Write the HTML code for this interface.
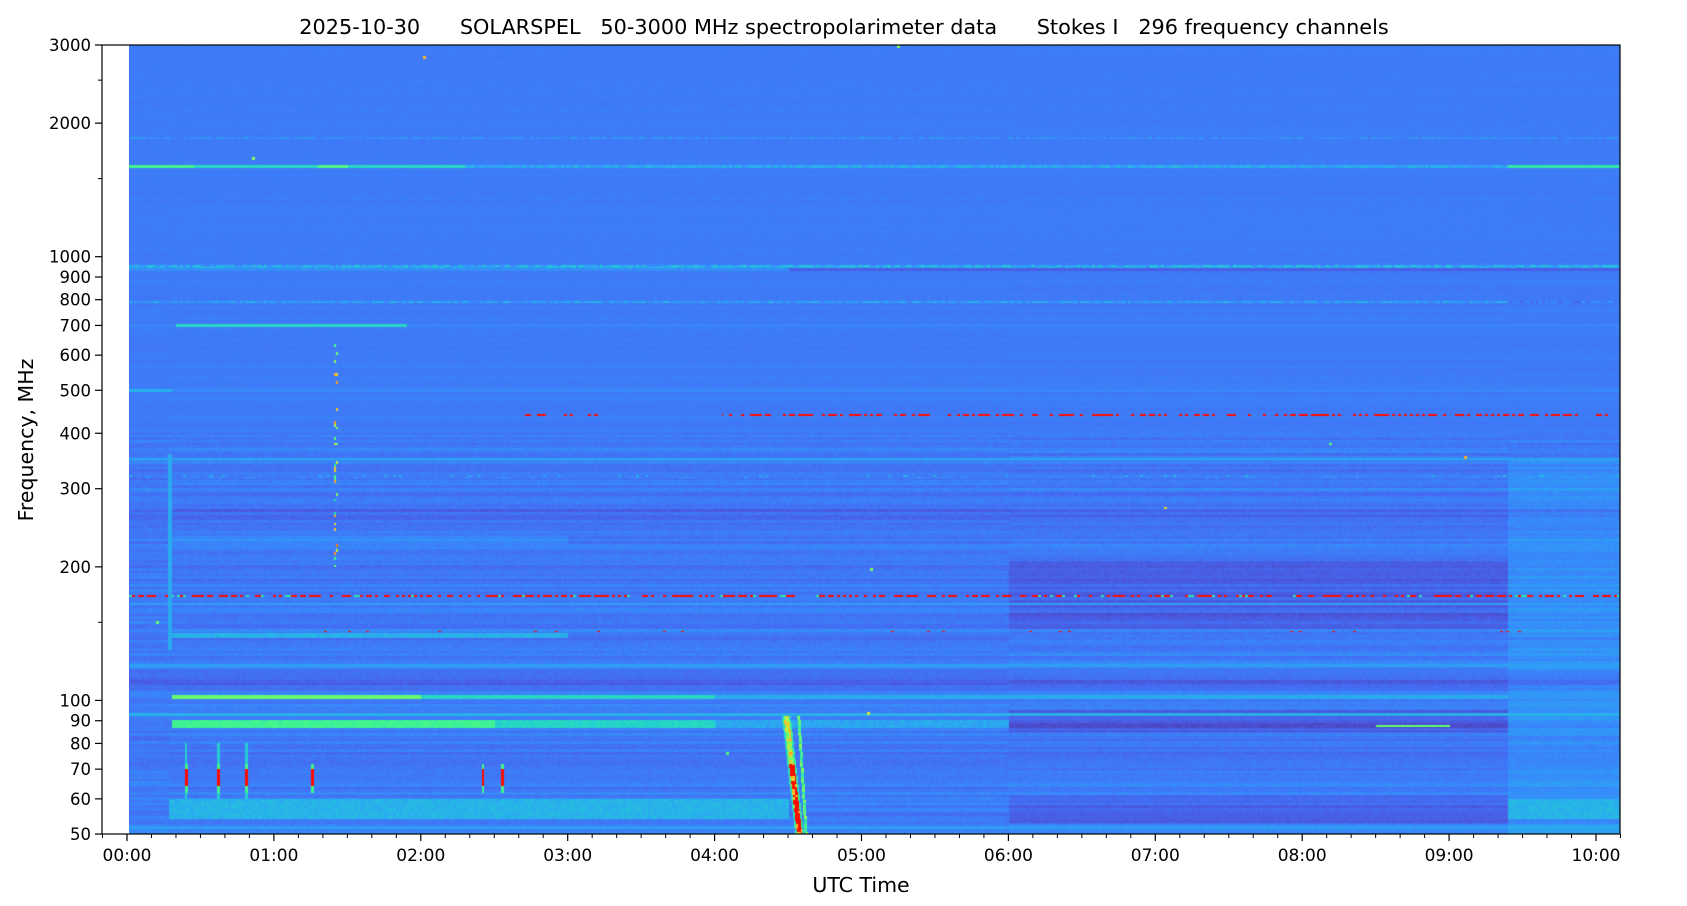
<!DOCTYPE html>
<html><head><meta charset="utf-8">
<style>
html,body{margin:0;padding:0;background:#fff;}
#wrap{position:relative;width:1687px;height:906px;overflow:hidden;font-family:"Liberation Sans","DejaVu Sans",sans-serif;}
canvas{position:absolute;left:129px;top:45px;}
svg{position:absolute;left:0;top:0;}
</style></head><body>
<div id="wrap">
<canvas id="c" width="1491" height="789"></canvas>
<svg id="s" width="1687" height="906" xmlns="http://www.w3.org/2000/svg" font-family="DejaVu Sans, Liberation Sans, sans-serif">
<text x="844" y="34" font-size="20.8" text-anchor="middle" style="white-space:pre" xml:space="preserve">2025-10-30      SOLARSPEL   50-3000 MHz spectropolarimeter data      Stokes I   296 frequency channels</text>
<text x="861" y="892" font-size="20.5" text-anchor="middle">UTC Time</text>
<text transform="translate(33,440) rotate(-90)" font-size="20.5" text-anchor="middle">Frequency, MHz</text>
<rect x="102" y="45" width="1518" height="789" fill="none" stroke="#000" stroke-width="1.2"/>
<g id="ticks"></g>
</svg>
</div>
<script>
const L60=Math.log(60);
function Y(f){return 834-Math.log(f/50)/L60*789;}
function X(t){return 127+146.9*t;}
const g=document.getElementById('ticks');let h='';
[50,60,70,80,90,100,200,300,400,500,600,700,800,900,1000,2000,3000].forEach(f=>{const y=Y(f);
h+=`<line x1="95" x2="102" y1="${y}" y2="${y}" stroke="#000" stroke-width="1.2"/><text x="91" y="${y+6}" font-size="16.5" text-anchor="end">${f}</text>`;});
[150,1500,2500].forEach(f=>{const y=Y(f);h+=`<line x1="98" x2="102" y1="${y}" y2="${y}" stroke="#000"/>`;});
for(let m=-10;m<=610;m+=10){const x=X(m/60);if(x<101||x>1621)continue;
 if(m%60==0){h+=`<line x1="${x}" x2="${x}" y1="834" y2="841" stroke="#000" stroke-width="1.2"/><text x="${x}" y="861" font-size="17" text-anchor="middle">${String(m/60).padStart(2,'0')}:00</text>`;}
 else h+=`<line x1="${x}" x2="${x}" y1="834" y2="838" stroke="#000"/>`;}
g.innerHTML=h;

function turbo(x){
if(x>=0.85)return [255,20*(1-x)*6,0];
x=Math.max(0,Math.min(1,x));
const r=0.13572138+x*(4.61539260+x*(-42.66032258+x*(132.13108234+x*(-152.94239396+x*59.28637943))));
const gg=0.09140261+x*(2.19418839+x*(4.84296658+x*(-14.18503333+x*(4.27729857+x*2.82956604))));
const b=0.10667330+x*(12.64194608+x*(-60.58204836+x*(110.36276771+x*(-89.90310912+x*27.34824973))));
return [r*255,gg*255,b*255].map(v=>Math.max(0,Math.min(255,v)));}
function hash(a,b){let n=(a*374761393+b*668265263)|0;n=(n^(n>>>13))*1274126177|0;n=n^(n>>>16);return (n>>>0)/4294967296;}
const W=1491,H=789;
const cv=document.getElementById('c'),ctx=cv.getContext('2d');const img=ctx.createImageData(W,H);const d=img.data;
function near(f,c,rel){return Math.abs(Math.log(f/c))<rel;}
for(let r=0;r<H;r++){
 const y=45+r+0.5;const f=50*Math.exp((834-y)/789*L60);const ch=Math.floor(r/2.666);
 const lowAmp=f<400?0.028:(f<1000?0.008:0.004);
 const ro=[0,1,2,3].map(s=>(hash(ch,11)-0.5)*lowAmp*1.2+(hash(ch,20+s)-0.5)*lowAmp*0.8);
 for(let c=0;c<W;c++){
  const x=129+c;const t=(x-127)/146.9;const col=Math.floor(c/3);
  const seg=t<0.28?0:(t<6.0?1:(t<9.4?2:3));
  let v=0.15+ro[seg]+(hash(col,ch*7+3)-0.5)*(f<400?0.014:0.005);
  if(seg==3&&f<350)v+=0.03;
  if(seg==2){ if(f>145&&f<205)v-=0.035; if(f>85&&f<95)v-=0.045; if(f<61&&f>53)v-=0.03; }
  if(f>105&&f<116)v-=0.03;
  if(f>245&&f<270)v-=0.02;
  const rn=hash(col,ch*13+5);
  if(near(f,1600,0.008)){v= t<2.3?0.3+(t<0.45?0.08:0)+(t>1.3&&t<1.5?0.1:0):(t>9.4?0.34:0.19+rn*0.05);}
  if(near(f,1850,0.005))v+=rn*0.05;
  if(near(f,952,0.007))v=0.17+rn*0.1; else if(near(f,935,0.007))v=(t<4.5?0.18:0.11);
  if(near(f,790,0.007))v=(t>9.4?0.11:0.16)+rn*0.08;
  if(near(f,700,0.009))v=(t>0.33&&t<1.9)?0.3:0.165;
  if(near(f,500,0.007))v=t<0.3?0.23:0.17;
  if(near(f,440,0.007)){if(((t>2.7&&t<3.2)||(t>4.05))&&rn<0.45)v=0.92;}
  if(near(f,350,0.007))v=0.21;
  if(near(f,320,0.007))v+=rn>0.9?0.08:0.02;
  if(near(f,230,0.02)&&t>0.3&&t<3)v+=0.03;
  if(near(f,172,0.006)){ if(rn<0.5)v=0.92; else if(rn<0.6)v=0.33;}
  if(near(f,165,0.007))v=0.2;
  if(near(f,140,0.015)&&t>0.3&&t<3)v=0.21+rn*0.04;
  if(near(f,143,0.005)&&rn<0.03)v=0.92;
  if(near(f,120,0.007))v=0.2;
  if(near(f,102,0.01)&&t>0.3){v=t<2?0.44:(t<4?0.3:(t<9.4?0.22:0.19));}
  if(near(f,93,0.007))v=0.23;
  if(f>86.5&&f<90.5&&t>0.3&&t<6){v=(t<2.5?0.36:(t<4?0.28:0.2))+rn*0.03;}
  if(near(f,87.5,0.005)&&t>8.5&&t<9.0)v=0.43;
  if(f>54&&f<60&&t>0.28&&(t<4.5||t>9.4))v=0.22+rn*0.03;
  if(f<52)v+=0.03;
  if(f>130&&f<360&&Math.abs(t-0.29)<0.012)v=0.22;
  if(f>62&&f<72)[0.4,0.62,0.81,1.26,2.42,2.55].forEach(s=>{if(Math.abs(t-s)<0.01)v=f>64&&f<70?0.92:0.38;});
  if(f>60&&f<80)[0.4,0.62,0.81].forEach(s=>{if(Math.abs(t-s)<0.008&&v<0.28)v=0.28;});
  if(f>200&&f<650&&Math.abs(t-1.42)<0.015&&rn<0.2)v=0.3+rn*2.5;
  if(f<92){const lf=Math.log(f/50)/Math.log(92/50);
   const c1=4.575-0.09*lf,c2=4.62-0.05*lf;
   if(Math.abs(t-c1)<0.018)v=(f<72&&rn<0.7)?0.92:0.4+rn*0.3;
   else if(Math.abs(t-c1)<0.03)v=Math.max(v,0.28+rn*0.1);
   if(Math.abs(t-c2)<0.01)v=Math.max(v,0.3+rn*0.2);}
  if(hash(col,ch*31+9)<0.0002)v=0.3+hash(col,ch)*0.4;
  const cc=turbo(v);const i=(r*W+c)*4;d[i]=cc[0];d[i+1]=cc[1];d[i+2]=cc[2];d[i+3]=255;
 }}
ctx.putImageData(img,0,0);
</script>
</body></html>
